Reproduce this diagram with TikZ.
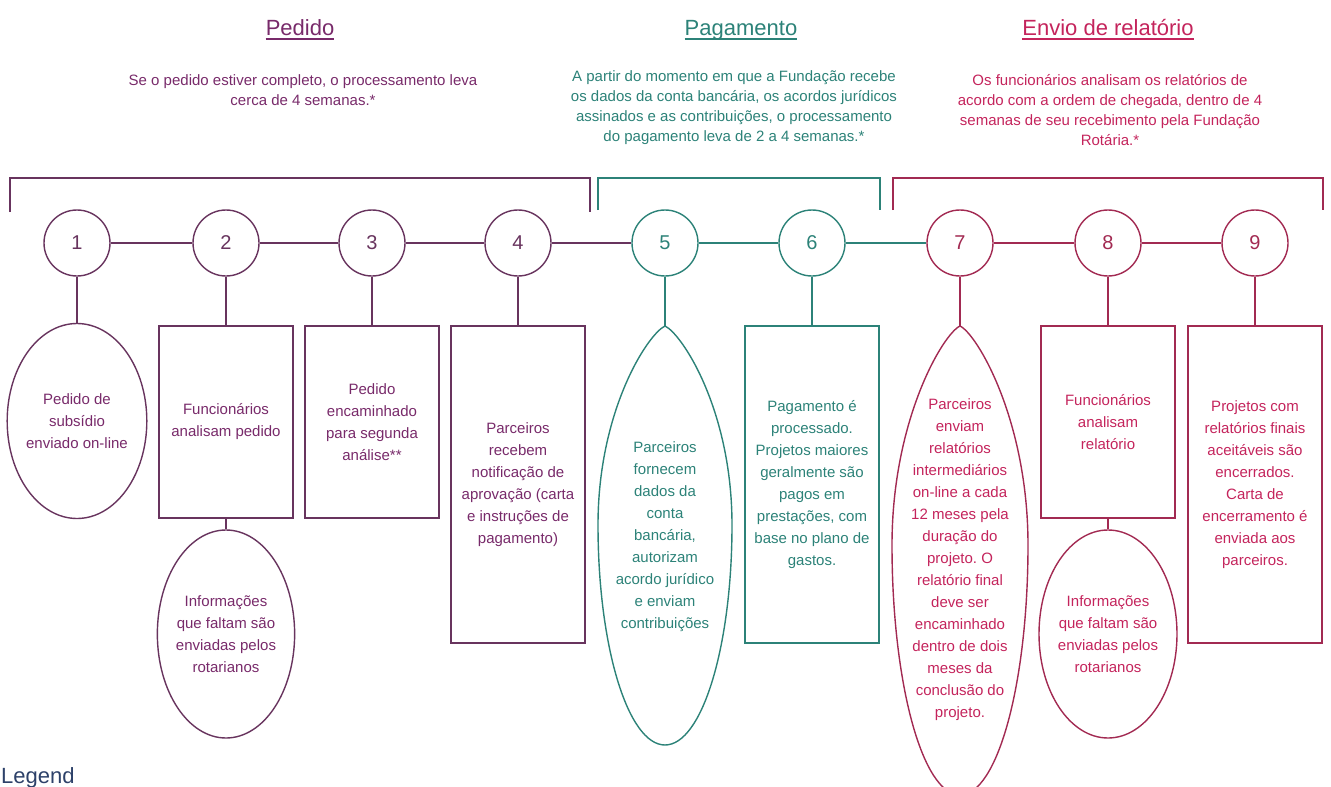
\documentclass[tikz,border=0pt]{standalone}
\usepackage{fontspec}
\setmainfont{Liberation Sans}
\usetikzlibrary{shapes.geometric}
\frenchspacing
\definecolor{pedido}{RGB}{120,42,106}
\definecolor{pedline}{RGB}{104,52,94}
\definecolor{pagto}{RGB}{44,130,120}
\definecolor{envio}{RGB}{196,36,92}
\definecolor{envline}{RGB}{162,42,82}
\definecolor{legendcol}{RGB}{45,65,105}
\tikzset{
  heading/.style={inner sep=0pt,anchor=base,font=\fontsize{22}{26}\selectfont},
  intro/.style={align=center,inner sep=0pt,font=\fontsize{15}{20}\selectfont},
  bracket/.style={line width=1.6pt},
  conn/.style={line width=1.4pt},
  stepcirc/.style={circle,line width=1.4pt,minimum size=66pt,inner sep=0pt,font=\fontsize{20}{24}\selectfont},
  infobox/.style={rectangle,draw,line width=1.4pt,minimum width=134pt,align=center,inner sep=2pt,font=\fontsize{15}{22}\selectfont},
  egg/.style={ellipse,draw,line width=1.4pt,align=center,inner sep=-1.5pt,font=\fontsize{15}{22}\selectfont},
  eggtext/.style={align=center,inner sep=0pt,font=\fontsize{15}{22}\selectfont}
}
\begin{document}
\begin{tikzpicture}[x=1pt,y=-1pt]
\useasboundingbox (0,0) rectangle (1331,787);

% headings
\node[heading,text=pedido] (hped) at (300,35) {Pedido};
\node[heading,text=pagto] (hpag) at (741,35) {Pagamento};
\node[heading,text=envio] (henv) at (1108,35) {Envio de relatório};
\draw[pedido,line width=1.1pt] ([yshift=-4pt]hped.base west) -- ([yshift=-4pt]hped.base east);
\draw[pagto,line width=1.1pt] ([yshift=-4pt]hpag.base west) -- ([yshift=-4pt]hpag.base east);
\draw[envio,line width=1.1pt] ([yshift=-4pt]henv.base west) -- ([yshift=-4pt]henv.base east);

\node[intro,text=pedido] (tped) at (303,90) {Se o pedido estiver completo, o processamento leva\\cerca de 4 semanas.*};
\node[intro,text=pagto] (tpag) at (734,108) {A partir do momento em que a Fundação recebe\\os dados da conta bancária, os acordos jurídicos\\assinados e as contribuições, o processamento\\do pagamento leva de 2 a 4 semanas.*};
\node[intro,text=envio] (tenv) at (1110,110) {Os funcionários analisam os relatórios de\\acordo com a ordem de chegada, dentro de 4\\semanas de seu recebimento pela Fundação\\Rotária.*};

% brackets
\draw[bracket,pedline] (10,212)--(10,178)--(590,178)--(590,212);
\draw[bracket,pagto] (598,210)--(598,178)--(880,178)--(880,210);
\draw[bracket,envline] (893,210)--(893,178)--(1323,178)--(1323,210);

% steps
\node[stepcirc,draw=pedline,text=pedline] (c1) at (77,243) {1};
\node[stepcirc,draw=pedline,text=pedline] (c2) at (226,243) {2};
\node[stepcirc,draw=pedline,text=pedline] (c3) at (372,243) {3};
\node[stepcirc,draw=pedline,text=pedline] (c4) at (518,243) {4};
\node[stepcirc,draw=pagto,text=pagto] (c5) at (665,243) {5};
\node[stepcirc,draw=pagto,text=pagto] (c6) at (812,243) {6};
\node[stepcirc,draw=envline,text=envline] (c7) at (960,243) {7};
\node[stepcirc,draw=envline,text=envline] (c8) at (1108,243) {8};
\node[stepcirc,draw=envline,text=envline] (c9) at (1255,243) {9};
\draw[conn,pedline] (c1)--(c2) (c2)--(c3) (c3)--(c4) (c4)--(c5);
\draw[conn,pagto] (c5)--(c6) (c6)--(c7);
\draw[conn,envline] (c7)--(c8) (c8)--(c9);

% Pedido
\node[egg,draw=pedline,text=pedido,minimum width=138pt,minimum height=195pt] (s1) at (77,421) {Pedido de\\subsídio\\enviado on-line};
\node[infobox,draw=pedline,text=pedido,minimum height=192pt] (s2) at (226,422) {Funcionários\\analisam pedido};
\node[egg,draw=pedline,text=pedido,minimum width=136pt,minimum height=208pt] (e2) at (226,634) {Informações\\que faltam são\\enviadas pelos\\rotarianos};
\node[infobox,draw=pedline,text=pedido,minimum height=192pt] (s3) at (372,422) {Pedido\\encaminhado\\para segunda\\análise**};
\node[infobox,draw=pedline,text=pedido,minimum height=317pt] (s4) at (518,484.5) {Parceiros\\recebem\\notificação de\\aprovação (carta\\e instruções de\\pagamento)};
\draw[conn,pedline] (c1)--(s1) (c2)--(s2) (s2)--(e2) (c3)--(s3) (c4)--(s4);

% Pagamento
\coordinate (top5) at (665,326);
\draw[conn,pagto] (598,525) .. controls (598,410) and (648,334) .. (top5)
  .. controls (682,334) and (732,410) .. (732,525)
  arc[start angle=0,end angle=180,x radius=67,y radius=220];
\node[eggtext,text=pagto] (s5) at (665,537) {Parceiros\\fornecem\\dados da\\conta\\bancária,\\autorizam\\acordo jurídico\\e enviam\\contribuições};
\node[infobox,draw=pagto,text=pagto,minimum height=317pt] (s6) at (812,484.5) {Pagamento é\\processado.\\Projetos maiores\\geralmente são\\pagos em\\prestações, com\\base no plano de\\gastos.};
\draw[conn,pagto] (c5)--(top5) (c6)--(s6);

% Envio de relatorio
\coordinate (top7) at (960,326);
\draw[conn,envline] (892,545) .. controls (892,420) and (943,334) .. (top7)
  .. controls (977,334) and (1028,420) .. (1028,545)
  arc[start angle=0,end angle=180,x radius=68,y radius=250];
\node[eggtext,text=envio] (s7) at (960,560) {Parceiros\\enviam\\relatórios\\intermediários\\on-line a cada\\12 meses pela\\duração do\\projeto. O\\relatório final\\deve ser\\encaminhado\\dentro de dois\\meses da\\conclusão do\\projeto.};
\node[infobox,draw=envline,text=envio,minimum height=192pt] (s8) at (1108,422) {Funcionários\\analisam\\relatório};
\node[egg,draw=envline,text=envio,minimum width=138pt,minimum height=208pt] (e8) at (1108,634) {Informações\\que faltam são\\enviadas pelos\\rotarianos};
\node[infobox,draw=envline,text=envio,minimum height=317pt] (s9) at (1255,484.5) {Projetos com\\relatórios finais\\aceitáveis são\\encerrados.\\Carta de\\encerramento é\\enviada aos\\parceiros.};
\draw[conn,envline] (c7)--(top7) (c8)--(s8) (s8)--(e8) (c9)--(s9);

\node[anchor=base west,inner sep=0pt,font=\fontsize{22}{26}\selectfont,text=legendcol] (legend) at (1,783) {Legend};
\end{tikzpicture}
\end{document}
